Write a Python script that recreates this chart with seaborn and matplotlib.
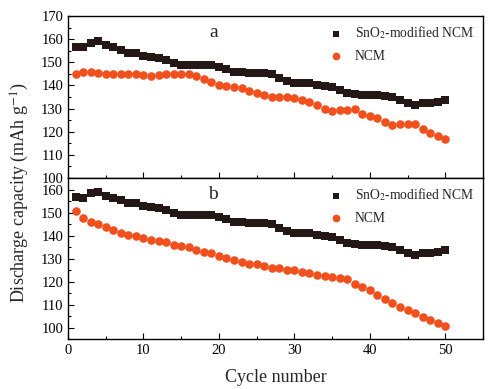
import numpy as np
import pandas as pd
import matplotlib
matplotlib.use('Agg')
import matplotlib.pyplot as plt
import seaborn as sns
from matplotlib.ticker import MultipleLocator

# cycle numbers 1..50
cycles = list(range(1, 51))

# SnO2-modified NCM (same cell shown in both panels)
sno2 = [156.7, 156.5, 158.5, 159.0, 157.3, 156.5, 155.4, 154.0, 154.0, 152.7,
        152.4, 152.0, 150.9, 149.7, 149.0, 149.0, 149.0, 148.7, 148.7, 148.0,
        147.0, 146.0, 145.8, 145.5, 145.5, 145.5, 144.8, 143.2, 141.9, 141.2,
        141.0, 141.0, 140.3, 139.6, 139.4, 138.0, 136.6, 136.1, 136.0, 136.0,
        136.0, 135.6, 135.1, 133.8, 132.3, 131.7, 132.3, 132.6, 132.9, 133.7]

# bare NCM, panel a
ncm_a = [144.9, 145.7, 145.7, 145.4, 145.0, 145.0, 145.0, 145.0, 144.8, 144.3,
         144.2, 144.3, 145.0, 145.0, 145.0, 145.1, 143.9, 142.6, 141.4, 140.3,
         139.8, 139.4, 138.7, 137.5, 136.8, 136.0, 134.9, 134.9, 134.9, 134.6,
         133.9, 132.8, 131.4, 130.0, 128.8, 129.4, 129.4, 130.0, 127.8, 126.8,
         125.8, 124.3, 122.7, 123.3, 123.3, 123.3, 121.3, 119.4, 118.1, 116.8]

# bare NCM, panel b
ncm_b = [150.7, 147.7, 145.8, 144.9, 143.5, 142.3, 141.2, 140.4, 139.7, 138.7,
         138.0, 137.4, 137.0, 136.0, 135.5, 134.8, 133.9, 133.0, 132.2, 131.3,
         130.4, 129.4, 128.7, 127.8, 127.4, 126.7, 126.0, 125.7, 125.1, 125.0,
         124.0, 123.6, 122.9, 122.6, 122.0, 121.6, 120.9, 118.8, 117.4, 116.5,
         114.3, 112.5, 110.7, 109.1, 107.8, 106.4, 104.5, 103.2, 102.0, 100.6]

sns.set_style('white')
plt.rcParams['font.family'] = ['Liberation Serif', 'DejaVu Serif']
plt.rcParams['mathtext.fontset'] = 'stix'

black = '#231815'
orange = '#f0501e'

fig = plt.figure(figsize=(4.9, 3.89), dpi=100)
ax_a = fig.add_axes([0.1388, 0.5424, 0.8469, 0.4165])
ax_b = fig.add_axes([0.1388, 0.1285, 0.8469, 0.4139])

panels = [(ax_a, ncm_a, 'a', (100, 170), range(100, 171, 10)),
          (ax_b, ncm_b, 'b', (95, 165), range(100, 161, 10))]

for ax, ncm, tag, ylim, yticks in panels:
    df = pd.DataFrame({'cycle': cycles + cycles,
                       'cap': sno2 + ncm,
                       'sample': ['SnO$_2$-modified NCM'] * 50 + ['NCM'] * 50})
    sns.scatterplot(data=df[df['sample'] != 'NCM'], x='cycle', y='cap', ax=ax,
                    marker='s', s=30, color=black, linewidth=0,
                    label='SnO$_2$-modified NCM')
    sns.scatterplot(data=df[df['sample'] == 'NCM'], x='cycle', y='cap', ax=ax,
                    marker='o', s=38, color=orange, linewidth=0, label='NCM')
    ax.set_xlim(0, 55)
    ax.set_ylim(*ylim)
    ax.set_yticks(list(yticks))
    ax.set_xticks([0, 10, 20, 30, 40, 50])
    ax.xaxis.set_minor_locator(MultipleLocator(5))
    ax.yaxis.set_minor_locator(MultipleLocator(5))
    ax.tick_params(which='both', direction='in', bottom=True, left=True,
                   top=False, right=False, labelsize=10.5, colors='black')
    ax.tick_params(which='major', length=4, width=0.8)
    ax.tick_params(which='minor', length=2, width=0.8)
    ax.set_xlabel('')
    ax.set_ylabel('')
    for sp in ax.spines.values():
        sp.set_color('black')
        sp.set_linewidth(1.0)
    ax.text(0.35, 0.9, tag, transform=ax.transAxes, fontsize=14,
            ha='center', va='center')
    ax.legend(loc='upper right', frameon=False, fontsize=9.8,
              handlelength=1.0, handletextpad=0.9, borderaxespad=0.0,
              labelspacing=0.6, markerscale=0.9,
              bbox_to_anchor=(0.992, 0.98))

ax_a.tick_params(labelbottom=False)
ax_b.set_xlabel('Cycle number', fontsize=13, labelpad=9)
fig.text(0.041, 0.506, 'Discharge capacity (mAh g$^{-1}$)', rotation=90,
         fontsize=13, ha='center', va='center')

fig.savefig('out.png', dpi=100)
